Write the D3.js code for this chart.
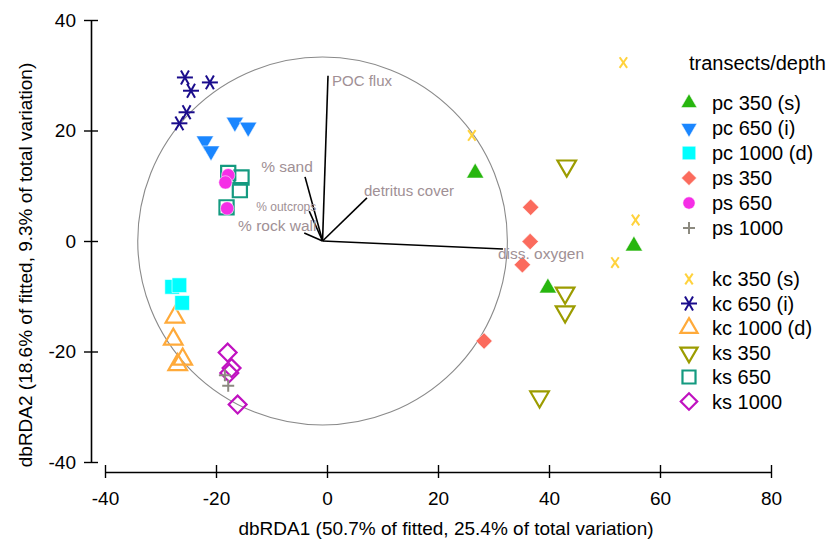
<!DOCTYPE html>
<html>
<head>
<meta charset="utf-8">
<script src="https://cdn.jsdelivr.net/npm/d3@7"></script>
<style>
  html, body { margin: 0; padding: 0; background: #fff; }
  svg { display: block; font-family: "Liberation Sans", Arial, sans-serif; }
</style>
</head>
<body>
<svg id="chart" width="833" height="543"></svg>
<script>
// dbRDA ordination: sample scores by transect/depth, with predictor vectors

const xTicks = [-40, -20, 0, 20, 40, 60, 80];
const yTicks = [-40, -20, 0, 20, 40];

const xTitle = "dbRDA1 (50.7% of fitted, 25.4% of total variation)";
const yTitle = "dbRDA2 (18.6% of fitted, 9.3% of total variation)";
const legendTitle = "transects/depth";

// sample scores [dbRDA1, dbRDA2]
const pc350  = [[26.7, 12.3], [39.8, -8.5], [55.3, -0.9]];
const pc650  = [[-16.6, 21.5], [-14.2, 20.6], [-22.0, 18.1], [-20.9, 16.3]];
const pc1000 = [[-27.9, -8.3], [-26.6, -8.0], [-26.1, -11.2]];
const ps350  = [[36.7, 6.1], [36.6, -0.1], [35.2, -4.3], [28.3, -18.1]];
const ps650  = [[-17.8, 11.9], [-18.3, 10.6], [-18.0, 5.9]];
const ps1000 = [[-18.4, -24.3], [-17.8, -26.2]];
const kc350  = [[53.4, 32.3], [26.1, 19.1], [55.6, 3.8], [51.9, -3.9]];
const kc650  = [[-25.6, 29.6], [-21.1, 28.7], [-24.5, 27.2], [-25.3, 23.3], [-26.6, 21.3]];
const kc1000 = [[-27.4, -13.8], [-27.7, -17.8], [-26.0, -21.4], [-26.9, -22.4]];
const ks350  = [[43.2, 13.6], [42.9, -9.4], [42.9, -12.8], [38.3, -28.2]];
const ks650  = [[-17.8, 12.3], [-15.4, 11.5], [-15.7, 9.2], [-18.1, 6.1]];
const ks1000 = [[-17.9, -20.2], [-17.2, -23.0], [-17.6, -23.9], [-16.1, -29.6]];

const groupNames = ["pc 350 (s)", "pc 650 (i)", "pc 1000 (d)", "ps 350", "ps 650", "ps 1000",
                    "kc 350 (s)", "kc 650 (i)", "kc 1000 (d)", "ks 350", "ks 650", "ks 1000"];
const groupPoints = [pc350, pc650, pc1000, ps350, ps650, ps1000,
                     kc350, kc650, kc1000, ks350, ks650, ks1000];

// predictor vectors (end points) and the origin they share with the correlation circle
const vectorNames = ["POC flux", "% sand", "detritus cover", "% outcrops", "% rock wall", "diss. oxygen"];
const vectorEnds = [[0.18, 29.9], [-3.96, 11.6], [7.2, 7.8], [-3.2, 5.4], [-4.1, 1.45], [31.7, -1.45]];
const vectorOrigin = [-0.8, 0];
const circleRadius = 33.3;

// ---- drawing ----
const svg = d3.select("#chart");
const x = d3.scaleLinear().domain([-40, 80]).range([105, 771]);
const y = d3.scaleLinear().domain([-40, 40]).range([462, 20]);

// marker styles, one per group
const styles = [
  { shape: "triUp",    color: "#27b60e", fill: true,  size: 130 },
  { shape: "triDown",  color: "#1a86ff", fill: true,  size: 130 },
  { shape: "square",   color: "#00ffff", fill: true,  size: 215 },
  { shape: "diamond",  color: "#fb6b5d", fill: true,  size: 135 },
  { shape: "circle",   color: "#f52ee6", fill: true,  size: 140 },
  { shape: "plus",     color: "#8c8a80", fill: false, size: 12 },
  { shape: "x",        color: "#ffd23c", fill: false, size: 13 },
  { shape: "asterisk", color: "#1a0c8c", fill: false, size: 16 },
  { shape: "triUp",    color: "#ffaa3a", fill: false, size: 150 },
  { shape: "triDown",  color: "#9c9c00", fill: false, size: 150 },
  { shape: "square",   color: "#149a80", fill: false, size: 200 },
  { shape: "diamond",  color: "#c012c0", fill: false, size: 160 }
];

function drawMarker(g, st) {
  const s = st.size;
  if (st.shape === "plus" || st.shape === "x" || st.shape === "asterisk") {
    const r = s / 2;
    let angles;
    if (st.shape === "plus") angles = [0, 90];
    else if (st.shape === "x") angles = [55, 125];
    else angles = [0, 60, 120];
    angles.forEach(a => {
      const t = a * Math.PI / 180;
      g.append("line")
        .attr("x1", -r * Math.cos(t)).attr("y1", -r * Math.sin(t))
        .attr("x2", r * Math.cos(t)).attr("y2", r * Math.sin(t))
        .attr("stroke", st.color)
        .attr("stroke-width", 2)
        .attr("stroke-linecap", "butt");
    });
    return;
  }
  let type = d3.symbolCircle, rot = 0;
  if (st.shape === "triUp") type = d3.symbolTriangle;
  if (st.shape === "triDown") { type = d3.symbolTriangle; rot = 180; }
  if (st.shape === "square") type = d3.symbolSquare;
  if (st.shape === "diamond") { type = d3.symbolSquare; rot = 45; }
  const p = g.append("path")
    .attr("d", d3.symbol().type(type).size(s)())
    .attr("transform", rot ? `rotate(${rot})` : null);
  if (st.fill) {
    p.attr("fill", st.color).attr("stroke", "#ffffff").attr("stroke-width", 0.8).attr("stroke-opacity", 0.7);
  } else {
    p.attr("fill", "none").attr("stroke", st.color).attr("stroke-width", 2.2);
  }
}

// axes (plain hyphen for negative tick labels)
const plainFormat = d => String(d);
const yAxis = d3.axisLeft(y).tickValues(yTicks).tickFormat(plainFormat)
  .tickSizeInner(7).tickSizeOuter(0).tickPadding(8);
const gy = svg.append("g").attr("transform", "translate(91,0)").call(yAxis);
gy.select(".domain").attr("stroke", "#000").attr("stroke-width", 1.6);
gy.selectAll(".tick line").attr("x1", -7).attr("x2", 7).attr("stroke", "#000").attr("stroke-width", 1.4);
gy.selectAll(".tick text").attr("font-size", 19).attr("fill", "#000")
  .attr("font-family", "Liberation Sans, Arial, sans-serif");

const xAxis = d3.axisBottom(x).tickValues(xTicks).tickFormat(plainFormat)
  .tickSizeInner(6).tickSizeOuter(0).tickPadding(14);
const gx = svg.append("g").attr("transform", "translate(0,472)").call(xAxis);
gx.select(".domain").attr("stroke", "#000").attr("stroke-width", 1.6);
gx.selectAll(".tick line").attr("y1", -7).attr("y2", 6).attr("stroke", "#000").attr("stroke-width", 1.4);
gx.selectAll(".tick text").attr("font-size", 19).attr("fill", "#000")
  .attr("font-family", "Liberation Sans, Arial, sans-serif");

svg.append("text")
  .attr("x", 446).attr("y", 535)
  .attr("text-anchor", "middle").attr("font-size", 19).attr("fill", "#000")
  .text(xTitle);

svg.append("text")
  .attr("transform", "translate(32,265) rotate(-90)")
  .attr("text-anchor", "middle").attr("font-size", 19).attr("fill", "#000")
  .text(yTitle);

// correlation circle
svg.append("ellipse")
  .attr("cx", x(vectorOrigin[0])).attr("cy", y(vectorOrigin[1]))
  .attr("rx", x(circleRadius) - x(0)).attr("ry", y(0) - y(circleRadius))
  .attr("fill", "none").attr("stroke", "#8a8a8a").attr("stroke-width", 1.1);

// vectors
const labelPlacement = [
  { dx: 4,   dy: 10, anchor: "start",  size: 15 },
  { dx: -18, dy: -5, anchor: "middle", size: 15.5 },
  { dx: -3,  dy: -2, anchor: "start",  size: 15 },
  { dx: -23, dy: 0,  anchor: "middle", size: 12 },
  { dx: -27, dy: -2, anchor: "middle", size: 15.5 },
  { dx: -5,  dy: 10, anchor: "start",  size: 15.5 }
];
const gv = svg.append("g");
vectorEnds.forEach((e, i) => {
  gv.append("line")
    .attr("x1", x(vectorOrigin[0])).attr("y1", y(vectorOrigin[1]))
    .attr("x2", x(e[0])).attr("y2", y(e[1]))
    .attr("stroke", "#000").attr("stroke-width", 1.6);
});

// samples: the k transects first, then the p transects above them
const drawOrder = [6, 7, 8, 9, 10, 11, 0, 1, 2, 3, 4, 5];
const gp = svg.append("g");
drawOrder.forEach(gi => {
  groupPoints[gi].forEach(pt => {
    const g = gp.append("g").attr("transform", `translate(${x(pt[0])},${y(pt[1])})`);
    drawMarker(g, styles[gi]);
  });
});

// vector labels
vectorEnds.forEach((e, i) => {
  const lp = labelPlacement[i];
  gv.append("text")
    .attr("x", x(e[0]) + lp.dx).attr("y", y(e[1]) + lp.dy)
    .attr("text-anchor", lp.anchor).attr("font-size", lp.size)
    .attr("fill", "#a09095")
    .text(vectorNames[i]);
});
svg.node().appendChild(gv.node());

// legend
const gl = svg.append("g");
gl.append("text").attr("x", 689).attr("y", 70).attr("font-size", 20).attr("fill", "#000").text(legendTitle);
groupNames.forEach((name, i) => {
  const cy = i < 6 ? 103 + i * 25 : 279 + (i - 6) * 24.5;
  const g = gl.append("g").attr("transform", `translate(689,${cy})`);
  const st = Object.assign({}, styles[i]);
  if (st.shape !== "plus" && st.shape !== "x" && st.shape !== "asterisk") st.size *= 0.85;
  drawMarker(g, st);
  gl.append("text").attr("x", 712).attr("y", cy + 7)
    .attr("font-size", 20).attr("fill", "#000").text(name);
});
</script>
</body>
</html>
